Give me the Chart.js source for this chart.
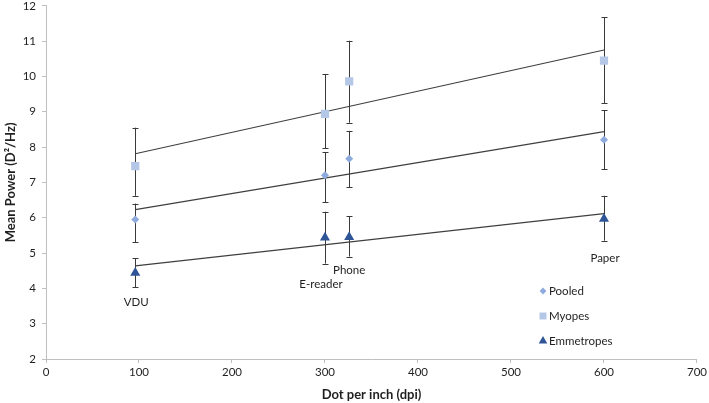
<!DOCTYPE html>
<html>
<head>
<meta charset="utf-8">
<script src="https://cdn.jsdelivr.net/npm/chart.js"></script>
<style>
  html, body { margin: 0; padding: 0; background: #fff; }
  #wrap { width: 709px; height: 403px; }
</style>
</head>
<body>
<div id="wrap"><canvas id="c" width="709" height="403"></canvas></div>
<script>
// ---- Data ----
const categories = ['VDU', 'E-reader', 'Phone', 'Paper'];
const dpi = [96, 300, 326, 600];

const seriesNames = ['Pooled', 'Myopes', 'Emmetropes'];

const pooledMean  = [5.95, 7.20, 7.67, 8.21];
const pooledUpper = [6.40, 7.85, 8.46, 9.05];
const pooledLower = [5.30, 6.44, 6.86, 7.37];

const myopesMean  = [7.46, 8.94, 9.86, 10.45];
const myopesUpper = [8.55, 10.07, 11.01, 11.67];
const myopesLower = [6.62, 7.97, 8.69, 9.24];

const emmMean  = [4.44, 5.44, 5.45, 5.97];
const emmUpper = [4.85, 6.17, 6.05, 6.62];
const emmLower = [4.03, 4.70, 4.90, 5.35];

const xMin = 0, xMax = 700, xStep = 100;
const yMin = 2, yMax = 12, yStep = 1;

const xTitle = 'Dot per inch (dpi)';
const yTitle = 'Mean Power (D²/Hz)';

// ---- helpers ----
function points(ys) { return dpi.map((x, i) => ({ x: x, y: ys[i] })); }
function trend(ys) {
  const n = dpi.length;
  const mx = dpi.reduce((a, b) => a + b, 0) / n;
  const my = ys.reduce((a, b) => a + b, 0) / n;
  let sxy = 0, sxx = 0;
  for (let i = 0; i < n; i++) { sxy += (dpi[i] - mx) * (ys[i] - my); sxx += (dpi[i] - mx) ** 2; }
  const b = sxy / sxx, a = my - b * mx;
  const x0 = Math.min(...dpi), x1 = Math.max(...dpi);
  return [{ x: x0, y: a + b * x0 }, { x: x1, y: a + b * x1 }];
}

const FONT = 'Lato, "Liberation Sans", sans-serif';
const TXT = '#1f1f1f';
const AXIS = '#bfbfbf';
const ERR = '#3a3a3a';

const markerSets = [
  { label: seriesNames[0], mean: pooledMean, up: pooledUpper, lo: pooledLower, style: 'rectRot', color: '#8FAADC', r: 4 },
  { label: seriesNames[1], mean: myopesMean, up: myopesUpper, lo: myopesLower, style: 'rect', color: '#B4C7E7', r: 5.8 },
  { label: seriesNames[2], mean: emmMean, up: emmUpper, lo: emmLower, style: 'triangle', color: '#2F5597', r: 5.8 }
];

const datasets = [];
markerSets.forEach(s => {
  datasets.push({
    type: 'scatter', label: s.label, data: points(s.mean),
    pointStyle: s.style, pointRadius: s.r, pointHoverRadius: s.r,
    backgroundColor: s.color, borderColor: s.color, borderWidth: 0,
    order: 0, errUpper: s.up, errLower: s.lo, isMarker: true
  });
});
markerSets.forEach(s => {
  datasets.push({
    type: 'line', label: s.label + ' trend', data: trend(s.mean),
    borderColor: '#3f3f3f', borderWidth: 1.1, pointRadius: 0, fill: false,
    order: 1, isTrend: true
  });
});

// error bars drawn before markers
const errorBars = {
  id: 'errorBars',
  beforeDatasetsDraw(chart) {
    const ctx = chart.ctx, xs = chart.scales.x, ys = chart.scales.y;
    ctx.save();
    ctx.strokeStyle = ERR; ctx.lineWidth = 1;
    chart.data.datasets.forEach(ds => {
      if (!ds.isMarker) return;
      ds.data.forEach((p, i) => {
        const px = Math.round(xs.getPixelForValue(p.x)) + 0.5;
        const yt = ys.getPixelForValue(ds.errUpper[i]);
        const yb = ys.getPixelForValue(ds.errLower[i]);
        ctx.beginPath();
        ctx.moveTo(px, yt); ctx.lineTo(px, yb);
        ctx.moveTo(px - 3, Math.round(yt) + 0.5); ctx.lineTo(px + 3, Math.round(yt) + 0.5);
        ctx.moveTo(px - 3, Math.round(yb) + 0.5); ctx.lineTo(px + 3, Math.round(yb) + 0.5);
        ctx.stroke();
      });
    });
    ctx.restore();
  }
};

// category labels under the Emmetropes error bars
const catLabels = {
  id: 'catLabels',
  afterDatasetsDraw(chart, args, opts) {
    const ctx = chart.ctx, xs = chart.scales.x, ys = chart.scales.y;
    ctx.save();
    ctx.font = '11.5px ' + FONT;
    ctx.fillStyle = TXT;
    ctx.textAlign = 'center';
    ctx.textBaseline = 'middle';
    categories.forEach((c, i) => {
      const off = opts.offsets[i];
      ctx.fillText(c, xs.getPixelForValue(dpi[i]) + off[0], ys.getPixelForValue(emmLower[i]) + off[1]);
    });
    ctx.restore();
  }
};

// legend inside the plot area
const innerLegend = {
  id: 'innerLegend',
  afterDraw(chart, args, opts) {
    const ctx = chart.ctx;
    ctx.save();
    ctx.font = '11.5px ' + FONT;
    ctx.textAlign = 'left';
    ctx.textBaseline = 'middle';
    let y = opts.y;
    chart.data.datasets.forEach(ds => {
      if (!ds.isMarker) return;
      const st = { pointStyle: ds.pointStyle, radius: ds.pointRadius * 0.85, rotation: 0, borderWidth: 0 };
      ctx.fillStyle = ds.backgroundColor; ctx.strokeStyle = ds.backgroundColor;
      Chart.helpers.drawPoint(ctx, st, opts.x, y);
      ctx.fillStyle = TXT;
      ctx.fillText(ds.label, opts.x + 6, y + 0.5);
      y += opts.gap;
    });
    ctx.restore();
  }
};

new Chart(document.getElementById('c'), {
  data: { datasets: datasets },
  plugins: [errorBars, catLabels, innerLegend],
  options: {
    responsive: false,
    animation: false,
    layout: { padding: { left: 0, right: 12, top: 5, bottom: 0 } },
    plugins: {
      legend: { display: false },
      tooltip: { enabled: false },
      catLabels: { offsets: [[1, 15], [-4, 21], [0, 14], [1, 18]] },
      innerLegend: { x: 543, y: 291, gap: 25 }
    },
    scales: {
      x: {
        type: 'linear', min: xMin, max: xMax,
        ticks: { stepSize: xStep, color: TXT, font: { family: FONT, size: 11.5 }, padding: 2, maxRotation: 0 },
        grid: { display: true, drawOnChartArea: false, drawTicks: true, tickLength: 4, color: AXIS },
        border: { color: AXIS },
        title: { display: true, text: xTitle, color: TXT, font: { family: FONT, size: 13, weight: 'bold' }, padding: { top: 2, bottom: 0 } },
        afterFit(s) { s.height = 44; }
      },
      y: {
        type: 'linear', min: yMin, max: yMax,
        ticks: { stepSize: yStep, color: TXT, font: { family: FONT, size: 11.5 }, padding: 6 },
        grid: { display: true, drawOnChartArea: false, drawTicks: true, tickLength: 4, color: AXIS },
        border: { color: AXIS },
        title: { display: true, text: yTitle, color: TXT, font: { family: FONT, size: 13, weight: 'bold' }, padding: { top: 3, bottom: 0 } },
        afterFit(s) { s.width = 46; s.paddingTop = 0; s.paddingBottom = 0; }
      }
    }
  }
});
</script>
</body>
</html>
